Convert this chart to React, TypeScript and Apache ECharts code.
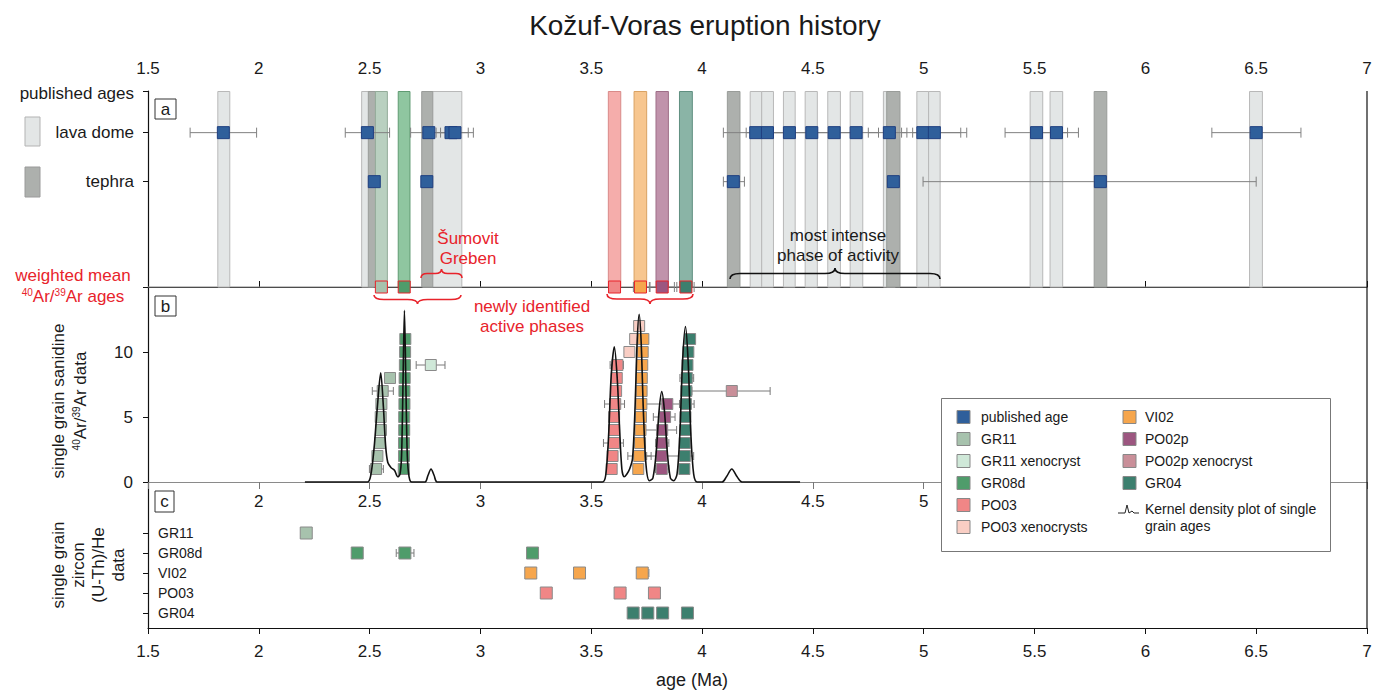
import React, { useEffect, useRef } from 'react';
import * as echarts from 'echarts';

const FONT = '"Liberation Sans", Arial, Helvetica, sans-serif';
const RED = '#e8232b';

// ---------- axes ----------
const ageMin = 1.5;
const ageMax = 7;
const ageStep = 0.5;
const middleAxisShown = [2, 5]; // range of labels visible on the panel b axis
const grainMax = 15;
const grainStep = 5;

// ---------- panel a : published ages ----------
const rowPublished = 4;
const rowLavaDome = 3.15;
const rowTephra = 2.15;
const rowWeightedMean = 0;

const lavaDomeAges = [1.84, 2.49, 2.767, 2.867, 2.885, 4.242, 4.295, 4.394, 4.495, 4.596, 4.695, 4.845, 4.996, 5.048, 5.509, 5.599, 6.5];
const lavaDomeErrors = [
  [1.69, 1.99], [2.39, 2.59], [2.685, 2.85], [2.8, 2.945], [2.82, 2.968], [4.096, 4.39], [4.199, 4.39],
  [4.3, 4.49], [4.4, 4.59], [4.5, 4.69], [4.6, 4.796], [4.75, 4.924], [4.9, 5.167], [4.95, 5.194],
  [5.367, 5.649], [5.5, 5.698], [6.3, 6.702],
];
const tephraAges = [2.521, 2.758, 4.141, 4.863, 5.797];
const tephraErrors = [null, null, [4.096, 4.191], null, [4.997, 6.5]];

const lavaDomeBands = [
  [1.815, 1.869], [2.464, 2.518], [2.74, 2.916], [4.217, 4.269], [4.269, 4.322], [4.367, 4.42], [4.465, 4.52],
  [4.567, 4.624], [4.668, 4.725], [4.818, 4.872], [4.969, 5.022], [5.022, 5.074], [5.48, 5.537], [5.57, 5.627],
  [6.47, 6.528],
];
const tephraBands = [[2.494, 2.548], [2.735, 2.785], [4.114, 4.171], [4.833, 4.893], [5.769, 5.826]];

const meanSamples = ['GR11', 'GR08d', 'PO03', 'VI02', 'PO02p', 'GR04'];
const meanAges = [2.553, 2.656, 3.605, 3.722, 3.82, 3.927];
const meanBandRanges = [[2.526, 2.58], [2.629, 2.682], [3.577, 3.633], [3.693, 3.75], [3.792, 3.848], [3.898, 3.956]];
const meanErrors = [null, null, null, [3.69, 3.762], [3.765, 3.875], [3.886, 3.964]];

// ---------- panel b : single grain sanidine 40Ar/39Ar ----------
const gr11Grains = [[2.529, 1], [2.535, 2], [2.547, 3], [2.551, 4], [2.55, 5], [2.553, 6], [2.559, 7], [2.592, 8]];
const gr11Errors = [[2.499, 2.562, 1], [2.512, 2.607, 7]];
const gr11XenoGrains = [[2.776, 9]];
const gr11XenoErrors = [[2.71, 2.84, 9]];
const gr08dGrains = [[2.654, 1], [2.655, 2], [2.655, 3], [2.656, 4], [2.656, 5], [2.657, 6], [2.657, 7], [2.658, 8], [2.659, 9], [2.66, 10], [2.661, 11]];
const gr08dErrors = [[2.64, 2.675, 4], [2.647, 2.677, 11]];
const po03Grains = [[3.592, 1], [3.596, 2], [3.603, 3], [3.603, 4], [3.603, 5], [3.608, 6], [3.612, 7], [3.615, 8], [3.618, 9]];
const po03Errors = [[3.555, 3.645, 3], [3.56, 3.65, 6], [3.585, 3.645, 9]];
const po03XenoGrains = [[3.672, 10], [3.698, 11], [3.716, 12]];
const po03XenoErrors = [[3.7, 3.735, 12]];
const vi02Grains = [[3.712, 1], [3.716, 2], [3.72, 3], [3.722, 4], [3.724, 5], [3.726, 6], [3.727, 7], [3.728, 8], [3.73, 9], [3.732, 10], [3.735, 11]];
const vi02Errors = [[3.665, 3.77, 2]];
const po02pGrains = [[3.818, 1], [3.817, 2], [3.818, 3], [3.82, 4], [3.833, 5], [3.843, 6]];
const po02pErrors = [[3.79, 3.85, 1], [3.75, 3.9, 2], [3.79, 3.85, 3], [3.745, 3.885, 4], [3.78, 3.878, 5], [3.745, 3.9, 6]];
const po02pXenoGrains = [[4.134, 7]];
const po02pXenoErrors = [[3.954, 4.307, 7]];
const gr04Grains = [[3.92, 1], [3.922, 2], [3.922, 3], [3.924, 4], [3.925, 5], [3.927, 6], [3.929, 7], [3.931, 8], [3.934, 9], [3.938, 10], [3.946, 11]];
const gr04Errors = [[3.9, 3.962, 2], [3.898, 3.964, 6], [3.9, 3.962, 8]];

const kdeCurve = [
  [2.208, 0], [2.49, 0], [2.505, 0.5], [2.52, 2.6], [2.535, 5.8], [2.55, 8.4], [2.562, 5.8], [2.572, 2.8], [2.582, 1.5],
  [2.597, 1.1], [2.612, 0.9], [2.627, 0.4], [2.637, 0.6], [2.644, 2], [2.65, 7], [2.657, 13.2], [2.664, 7], [2.67, 2],
  [2.678, 0.4], [2.69, 0], [2.75, 0], [2.763, 0.5], [2.777, 1.0], [2.791, 0.5], [2.805, 0],
  [3.55, 0], [3.565, 0.5], [3.578, 3.5], [3.59, 8.2], [3.604, 10.4], [3.617, 8], [3.628, 4], [3.638, 1.0], [3.648, 0.4],
  [3.66, 0.6], [3.673, 1.0], [3.686, 1.8], [3.697, 5.5], [3.707, 10.8], [3.716, 12.9], [3.725, 10.8], [3.735, 5.5],
  [3.747, 1.3], [3.762, 0.1], [3.778, 0.3], [3.793, 2.3], [3.806, 5.5], [3.818, 6.95], [3.83, 5.5], [3.843, 2.3],
  [3.857, 0.3], [3.872, 0.1], [3.887, 0.6], [3.9, 3.8], [3.912, 9.3], [3.925, 11.95], [3.937, 9.3], [3.949, 3.8],
  [3.962, 0.6], [3.978, 0], [4.09, 0], [4.11, 0.4], [4.134, 1.0], [4.158, 0.4], [4.18, 0], [4.442, 0],
];

// ---------- panel c : single grain zircon (U-Th)/He ----------
const zirconRows = ['GR04', 'PO03', 'VI02', 'GR08d', 'GR11'];
const zirconGR11 = [2.214];
const zirconGR08d = [2.444, 2.659, 3.235];
const zirconVI02 = [3.227, 3.447, 3.73];
const zirconPO03 = [3.297, 3.63, 3.785];
const zirconGR04 = [3.689, 3.755, 3.822, 3.934];
const zirconErrors: [number, number, string][] = [[2.62, 2.7, 'GR08d'], [3.71, 3.76, 'VI02'], [3.615, 3.655, 'PO03'], [3.735, 3.775, 'GR04']];

// ---------- styles ----------
const C = {
  published: '#2f5f9b',
  GR11: '#a7c2ad',
  GR11x: '#cfe8d8',
  GR08d: '#4f9c6b',
  PO03: '#f08686',
  PO03x: '#f9cec4',
  VI02: '#f6a64d',
  PO02p: '#9c5680',
  PO02px: '#c98f99',
  GR04: '#3c7f6e',
};
const bandFill: Record<string, string> = {
  GR11: '#b9d0c0', GR08d: '#8fc6a0', PO03: '#f5adab', VI02: '#f7c68f', PO02p: '#c093ab', GR04: '#8ab4a6',
};
const bandStroke: Record<string, string> = {
  GR11: '#93ab99', GR08d: '#5f9a72', PO03: '#d98a88', VI02: '#d9a263', PO02p: '#9e6f88', GR04: '#5f8f80',
};

function bracePath(w: number, h: number, tipUp: boolean) {
  const r = Math.min(10, w * 0.15);
  const m = h / 2;
  const e = tipUp ? h : 0;
  const t = tipUp ? 0 : h;
  return `M0 ${e} Q0 ${m} ${r} ${m} L${w / 2 - r} ${m} Q${w / 2} ${m} ${w / 2} ${t} Q${w / 2} ${m} ${w / 2 + r} ${m} L${w - r} ${m} Q${w} ${m} ${w} ${e}`;
}
echarts.graphic.registerShape('braceSumovit', echarts.graphic.extendPath(bracePath(41, 9, true), {}));
echarts.graphic.registerShape('braceIntense', echarts.graphic.extendPath(bracePath(210, 11, true), {}));
echarts.graphic.registerShape('braceB1', echarts.graphic.extendPath(bracePath(87, 9, false), {}));
echarts.graphic.registerShape('braceB2', echarts.graphic.extendPath(bracePath(86, 10, false), {}));

const errRender = (cap: number, color: string) => (params: any, api: any) => {
  const y = api.value(2);
  const p0 = api.coord([api.value(0), y]);
  const p1 = api.coord([api.value(1), y]);
  const style = { stroke: color, lineWidth: 1 };
  return {
    type: 'group',
    children: [
      { type: 'line', shape: { x1: p0[0], y1: p0[1], x2: p1[0], y2: p1[1] }, style },
      { type: 'line', shape: { x1: p0[0], y1: p0[1] - cap, x2: p0[0], y2: p0[1] + cap }, style },
      { type: 'line', shape: { x1: p1[0], y1: p1[1] - cap, x2: p1[0], y2: p1[1] + cap }, style },
    ],
  };
};

const bandRender = (fill: (i: number) => string, stroke: (i: number) => string) => (params: any, api: any) => {
  const x0 = api.coord([api.value(0), 0])[0];
  const x1 = api.coord([api.value(1), 0])[0];
  const cs = params.coordSys;
  const i = api.value(2);
  return {
    type: 'rect',
    shape: { x: x0, y: cs.y + 0.5, width: x1 - x0, height: cs.height - 0.5 },
    style: { fill: fill(i), stroke: stroke(i), lineWidth: 1 },
  };
};

function errorSeries(data: number[][], axis: number, cap: number, z = 3, color = '#7a7a7a') {
  return {
    type: 'custom', xAxisIndex: axis, yAxisIndex: axis, data, encode: { x: [0, 1], y: 2 },
    renderItem: errRender(cap, color), silent: true, z, clip: false,
  };
}

function squares(name: string, data: any[], axis: number, color: string, size: number, border = '#8a8a8a', z = 4) {
  return {
    type: 'scatter', name, xAxisIndex: axis, yAxisIndex: axis, data, symbol: 'rect', symbolSize: size,
    itemStyle: { color, borderColor: border, borderWidth: 1, opacity: 1 }, silent: true, z, clip: false,
  };
}

function buildOption() {
  const rowOf = (n: string) => zirconRows.indexOf(n) + 1;
  const zircon = (ages: number[], n: string) => ages.map((a) => [a, rowOf(n)]);

  const xBase = {
    type: 'value', min: ageMin, max: ageMax, interval: ageStep,
    splitLine: { show: false },
    axisLabel: { fontSize: 17, color: '#1a1a1a', fontFamily: FONT },
  };

  const legendCol1 = [
    ['published age', C.published], ['GR11', C.GR11], ['GR11 xenocryst', C.GR11x],
    ['GR08d', C.GR08d], ['PO03', C.PO03], ['PO03 xenocrysts', C.PO03x],
  ];
  const legendCol2 = [['VI02', C.VI02], ['PO02p', C.PO02p], ['PO02p xenocryst', C.PO02px], ['GR04', C.GR04]];
  const legendRows = [417, 439, 461, 483, 505, 527];

  const txt = (text: string, x: number, y: number, opts: any = {}) => ({
    type: 'text', x, y, z: opts.z ?? 20, rotation: opts.rotation ?? 0,
    style: {
      text, fontSize: opts.fontSize ?? 17, fontFamily: FONT, fill: opts.color ?? '#1a1a1a',
      align: opts.align ?? 'center', verticalAlign: 'middle', rich: opts.rich,
    },
  });
  const sup = { sup: { fontSize: 10, verticalAlign: 'top', fontFamily: FONT } };
  const supRed = { sup: { fontSize: 10, verticalAlign: 'top', fontFamily: FONT, fill: RED } };

  const graphic: any[] = [
    // frame pieces
    { type: 'line', z: 1, shape: { x1: 148, y1: 287, x2: 1367, y2: 287 }, style: { stroke: '#8a8a8a', lineWidth: 1 } },
    { type: 'line', z: 30, shape: { x1: 1367, y1: 91, x2: 1367, y2: 628 }, style: { stroke: '#111', lineWidth: 1.2 } },
    // panel letters
    { type: 'rect', z: 20, shape: { x: 155, y: 99, width: 21, height: 20 }, style: { fill: '#fff', stroke: '#333', lineWidth: 1 } },
    txt('a', 165.5, 109),
    { type: 'rect', z: 20, shape: { x: 155, y: 296, width: 21, height: 20 }, style: { fill: '#fff', stroke: '#333', lineWidth: 1 } },
    txt('b', 165.5, 306),
    { type: 'rect', z: 20, shape: { x: 155, y: 491, width: 19, height: 21 }, style: { fill: '#fff', stroke: '#333', lineWidth: 1 } },
    txt('c', 164.5, 501.5),
    // left labels, panel a
    txt('published ages', 134, 93, { align: 'right' }),
    { type: 'rect', z: 20, shape: { x: 25, y: 117, width: 15, height: 29 }, style: { fill: '#e3e6e6', stroke: '#b3b3b3', lineWidth: 1 } },
    txt('lava dome', 134, 132, { align: 'right' }),
    { type: 'rect', z: 20, shape: { x: 25, y: 167, width: 15, height: 30 }, style: { fill: '#adb0ad', stroke: '#9a9a9a', lineWidth: 1 } },
    txt('tephra', 134, 181, { align: 'right' }),
    txt('weighted mean', 73, 275, { color: RED }),
    txt('{sup|40}Ar/{sup|39}Ar ages', 73, 296, { color: RED, rich: supRed }),
    // rotated labels
    txt('single grain sanidine', 58, 401, { rotation: Math.PI / 2 }),
    txt('{sup|40}Ar/{sup|39}Ar data', 80, 401, { rotation: Math.PI / 2, rich: sup }),
    txt('single grain', 58, 565, { rotation: Math.PI / 2 }),
    txt('zircon', 78, 565, { rotation: Math.PI / 2 }),
    txt('(U-Th)/He', 98, 565, { rotation: Math.PI / 2 }),
    txt('data', 118, 565, { rotation: Math.PI / 2 }),
    // bottom axis title
    txt('age (Ma)', 692, 680, { fontSize: 18 }),
    // annotations
    txt('Šumovit', 468, 238, { color: RED }),
    txt('Greben', 468, 258, { color: RED }),
    { type: 'braceSumovit', x: 421, y: 269, z: 20, style: { stroke: RED, fill: 'none', lineWidth: 1.6 } },
    txt('most intense', 838, 235),
    txt('phase of activity', 838, 255),
    { type: 'braceIntense', x: 730, y: 268, z: 20, style: { stroke: '#111', fill: 'none', lineWidth: 1.6 } },
    { type: 'braceB1', x: 374, y: 295, z: 20, style: { stroke: RED, fill: 'none', lineWidth: 1.6 } },
    { type: 'braceB2', x: 607, y: 294, z: 20, style: { stroke: RED, fill: 'none', lineWidth: 1.6 } },
    txt('newly identified', 532, 306, { color: RED }),
    txt('active phases', 532, 326, { color: RED }),
    // legend
    { type: 'rect', z: 50, shape: { x: 941.5, y: 398.5, width: 389, height: 153 }, style: { fill: '#fff', stroke: '#777', lineWidth: 1 } },
  ];
  legendCol1.forEach(([label, color], i) => {
    graphic.push({ type: 'rect', z: 51, shape: { x: 957, y: legendRows[i] - 6.5, width: 13, height: 13 }, style: { fill: color, stroke: '#888', lineWidth: 1 } });
    graphic.push(txt(label, 981, legendRows[i], { align: 'left', fontSize: 14, z: 51 }));
  });
  legendCol2.forEach(([label, color], i) => {
    graphic.push({ type: 'rect', z: 51, shape: { x: 1123, y: legendRows[i] - 6.5, width: 13, height: 13 }, style: { fill: color, stroke: '#888', lineWidth: 1 } });
    graphic.push(txt(label, 1145, legendRows[i], { align: 'left', fontSize: 14, z: 51 }));
  });
  graphic.push({
    type: 'polyline', z: 51,
    shape: { points: [[1118, 513], [1125, 513], [1127, 505], [1129, 513], [1132, 511], [1134, 513], [1139, 513]] },
    style: { stroke: '#222', fill: 'none', lineWidth: 1 },
  });
  graphic.push(txt('Kernel density plot of single', 1145, 509, { align: 'left', fontSize: 14, z: 51 }));
  graphic.push(txt('grain ages', 1145, 526, { align: 'left', fontSize: 14, z: 51 }));

  const series: any[] = [
    // ---- panel a ----
    {
      type: 'custom', name: 'lava dome bands', xAxisIndex: 0, yAxisIndex: 0, silent: true, z: 1, clip: false,
      data: lavaDomeBands.map((b, i) => [b[0], b[1], i]), encode: { x: [0, 1], y: 2 },
      renderItem: bandRender(() => '#e3e6e6', () => '#b8b8b8'),
    },
    {
      type: 'custom', name: 'tephra bands', xAxisIndex: 0, yAxisIndex: 0, silent: true, z: 1, clip: false,
      data: tephraBands.map((b, i) => [b[0], b[1], i]), encode: { x: [0, 1], y: 2 },
      renderItem: bandRender(() => '#adb0ad', () => '#999c99'),
    },
    {
      type: 'custom', name: 'weighted mean bands', xAxisIndex: 0, yAxisIndex: 0, silent: true, z: 1, clip: false,
      data: meanBandRanges.map((b, i) => [b[0], b[1], i]), encode: { x: [0, 1], y: 2 },
      renderItem: bandRender((i) => bandFill[meanSamples[i]], (i) => bandStroke[meanSamples[i]]),
    },
    errorSeries(lavaDomeErrors.map((e) => [e[0], e[1], rowLavaDome]), 0, 5, 3, '#808080'),
    errorSeries(tephraErrors.filter((e) => e).map((e: any) => [e[0], e[1], rowTephra]), 0, 5, 3, '#808080'),
    squares('published age (lava dome)', lavaDomeAges.map((a) => [a, rowLavaDome]), 0, C.published, 12, '#1f3f80'),
    squares('published age (tephra)', tephraAges.map((a) => [a, rowTephra]), 0, C.published, 12, '#1f3f80'),
    errorSeries(meanErrors.filter((e) => e).map((e: any) => [e[0], e[1], rowWeightedMean]), 0, 5, 5, '#808080'),
    squares('weighted mean', meanAges.map((a, i) => ({ value: [a, rowWeightedMean], itemStyle: { color: C[meanSamples[i] as keyof typeof C] } })), 0, '#fff', 12, RED, 6),
    // ---- panel b ----
    errorSeries(gr11Errors, 1, 4),
    errorSeries(gr11XenoErrors, 1, 4),
    errorSeries(gr08dErrors, 1, 4),
    errorSeries(po03Errors, 1, 4),
    errorSeries(po03XenoErrors, 1, 4),
    errorSeries(vi02Errors, 1, 4),
    errorSeries(po02pErrors, 1, 4),
    errorSeries(po02pXenoErrors, 1, 4),
    errorSeries(gr04Errors, 1, 4),
    squares('GR11', gr11Grains, 1, C.GR11, 11),
    squares('GR11 xenocryst', gr11XenoGrains, 1, C.GR11x, 11),
    squares('GR08d', gr08dGrains, 1, C.GR08d, 11),
    squares('PO03', po03Grains, 1, C.PO03, 11),
    squares('PO03 xenocrysts', po03XenoGrains, 1, C.PO03x, 11),
    squares('VI02', vi02Grains, 1, C.VI02, 11),
    squares('PO02p', po02pGrains, 1, C.PO02p, 11),
    squares('PO02p xenocryst', po02pXenoGrains, 1, C.PO02px, 11),
    squares('GR04', gr04Grains, 1, C.GR04, 11),
    {
      type: 'line', name: 'Kernel density plot of single grain ages', xAxisIndex: 1, yAxisIndex: 1,
      data: kdeCurve, smooth: 0.3, symbol: 'none', silent: true, z: 8, clip: false,
      lineStyle: { color: '#111', width: 1.6 },
    },
    // ---- panel c ----
    errorSeries(zirconErrors.map((e) => [e[0], e[1], rowOf(e[2])]), 2, 4),
    squares('GR11 zircon', zircon(zirconGR11, 'GR11'), 2, C.GR11, 12),
    squares('GR08d zircon', zircon(zirconGR08d, 'GR08d'), 2, C.GR08d, 12),
    squares('VI02 zircon', zircon(zirconVI02, 'VI02'), 2, C.VI02, 12),
    squares('PO03 zircon', zircon(zirconPO03, 'PO03'), 2, C.PO03, 12),
    squares('GR04 zircon', zircon(zirconGR04, 'GR04'), 2, C.GR04, 12),
  ];

  return {
    animation: false,
    backgroundColor: '#fff',
    textStyle: { fontFamily: FONT },
    title: {
      text: 'Kožuf-Voras eruption history', left: 700, top: 6, textAlign: 'center',
      textStyle: { fontSize: 28, fontWeight: 'normal', color: '#1a1a1a', fontFamily: FONT },
    },
    grid: [
      { left: 148, right: 17, top: 91, height: 196 },
      { left: 148, right: 17, top: 287, height: 195 },
      { left: 148, right: 17, top: 482, height: 146 },
    ],
    xAxis: [
      {
        ...xBase, gridIndex: 0, position: 'top',
        axisLine: { show: true, lineStyle: { color: '#111', width: 1.2 } },
        axisTick: { show: true, inside: false, length: 6, lineStyle: { color: '#111' } },
        axisLabel: { ...xBase.axisLabel, margin: 14 },
      },
      {
        ...xBase, gridIndex: 1, position: 'bottom',
        axisLine: { show: true, lineStyle: { color: '#8a8a8a', width: 1 } },
        axisTick: { show: true, inside: false, length: 7, lineStyle: { color: '#777' } },
        axisLabel: {
          ...xBase.axisLabel, margin: 11,
          formatter: (v: number) => (v >= middleAxisShown[0] && v <= middleAxisShown[1] ? String(v) : ''),
        },
      },
      {
        ...xBase, gridIndex: 2, position: 'bottom',
        axisLine: { show: true, lineStyle: { color: '#111', width: 1.2 } },
        axisTick: { show: true, inside: false, length: 6, lineStyle: { color: '#111' } },
        axisLabel: { ...xBase.axisLabel, margin: 15 },
      },
    ],
    yAxis: [
      {
        type: 'value', gridIndex: 0, min: 0, max: 4, splitLine: { show: false },
        axisLine: { show: true, lineStyle: { color: '#111', width: 1.2 } },
        axisTick: { show: true, inside: false, length: 5, customValues: [rowPublished, rowLavaDome, rowTephra, rowWeightedMean], lineStyle: { color: '#111' } },
        axisLabel: { show: false },
      },
      {
        type: 'value', gridIndex: 1, min: 0, max: grainMax, interval: grainStep, splitLine: { show: false },
        axisLine: { show: true, lineStyle: { color: '#111', width: 1.2 } },
        axisTick: { show: true, inside: false, length: 5, lineStyle: { color: '#111' } },
        axisLabel: {
          fontSize: 17, color: '#1a1a1a', fontFamily: FONT, margin: 15,
          formatter: (v: number) => (v >= grainMax ? '' : String(v)),
        },
      },
      {
        type: 'value', gridIndex: 2, min: 0.25, max: 7.55, splitLine: { show: false },
        axisLine: { show: true, lineStyle: { color: '#111', width: 1.2 } },
        axisTick: { show: true, inside: false, length: 5, customValues: [1, 2, 3, 4, 5], lineStyle: { color: '#111' } },
        axisLabel: {
          show: true, inside: true, margin: 10, customValues: [1, 2, 3, 4, 5],
          fontSize: 14, color: '#1a1a1a', fontFamily: FONT,
          formatter: (v: number) => zirconRows[Math.round(v) - 1] ?? '',
        },
      },
    ],
    graphic,
    series,
  };
}

export default function App() {
  const ref = useRef<HTMLDivElement>(null);
  useEffect(() => {
    if (!ref.current) return;
    const chart = echarts.init(ref.current, null, { renderer: 'svg' });
    chart.setOption(buildOption() as any);
    return () => chart.dispose();
  }, []);
  return <div ref={ref} style={{ position: 'absolute', left: 0, top: 0, width: 1384, height: 693, background: '#fff' }} />;
}
